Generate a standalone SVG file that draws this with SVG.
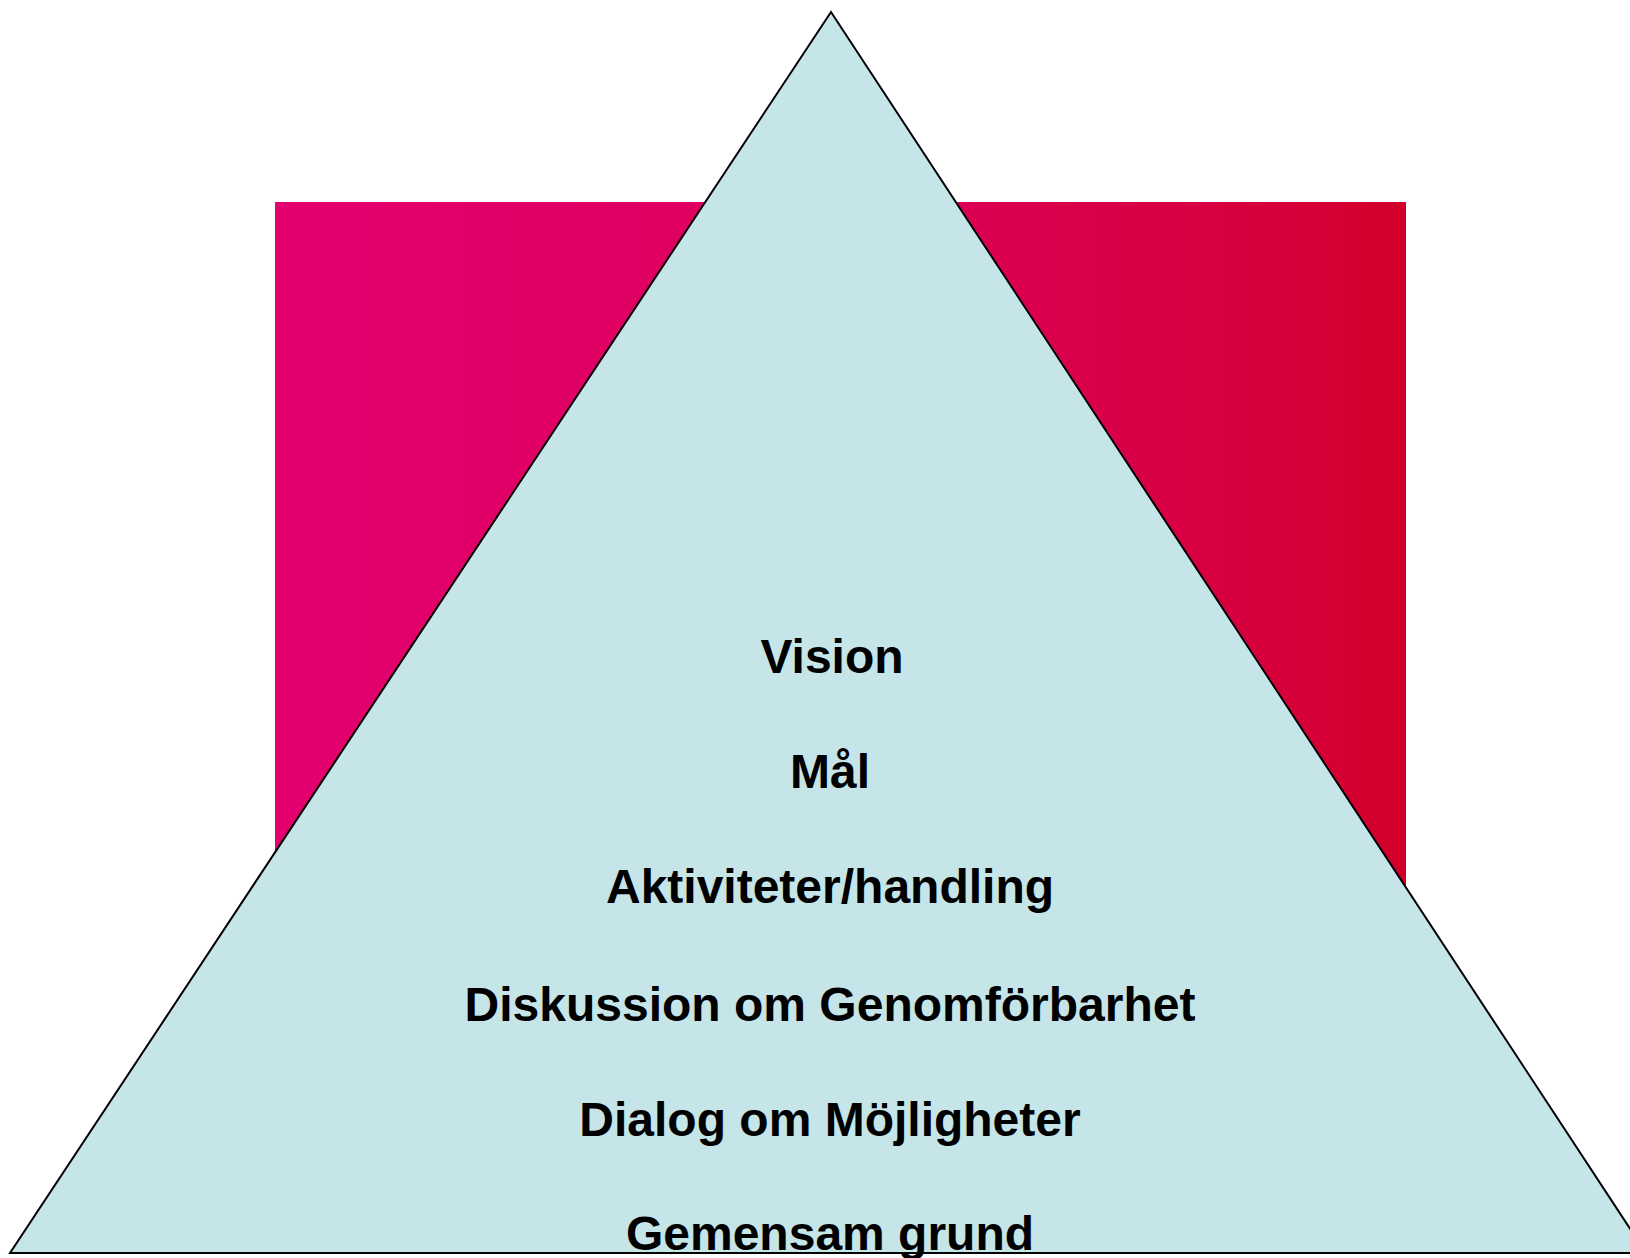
<svg xmlns="http://www.w3.org/2000/svg" width="1630" height="1258" viewBox="0 0 1630 1258">
<defs>
<linearGradient id="bg" x1="0" y1="0" x2="1" y2="0">
<stop offset="0" stop-color="#E3006F"/>
<stop offset="0.5" stop-color="#DD005C"/>
<stop offset="0.9" stop-color="#D6003A"/>
<stop offset="1" stop-color="#D1002A"/>
</linearGradient>
<style>
.lbl{font-family:"Liberation Sans",Arial,sans-serif;font-weight:bold;font-size:48px;fill:#000;text-anchor:middle}
</style>
</defs>
<rect width="1630" height="1258" fill="#FFFFFF"/>
<g id="background-block">
<rect x="275" y="202" width="1131" height="720" fill="url(#bg)"/>
</g>
<g id="pyramid">
<polygon points="831,12 10,1253 1646,1253" fill="#C5E5E9" stroke="#000" stroke-width="2"/>
</g>
<g id="labels">
<text class="lbl" x="832" y="673">Vision</text>
<text class="lbl" x="830" y="788">Mål</text>
<text class="lbl" x="830" y="903">Aktiviteter/handling</text>
<text class="lbl" x="830" y="1021">Diskussion om Genomförbarhet</text>
<text class="lbl" x="830" y="1136">Dialog om Möjligheter</text>
<text class="lbl" x="830" y="1250">Gemensam grund</text>
</g>
<g id="connectors"></g>
</svg>
